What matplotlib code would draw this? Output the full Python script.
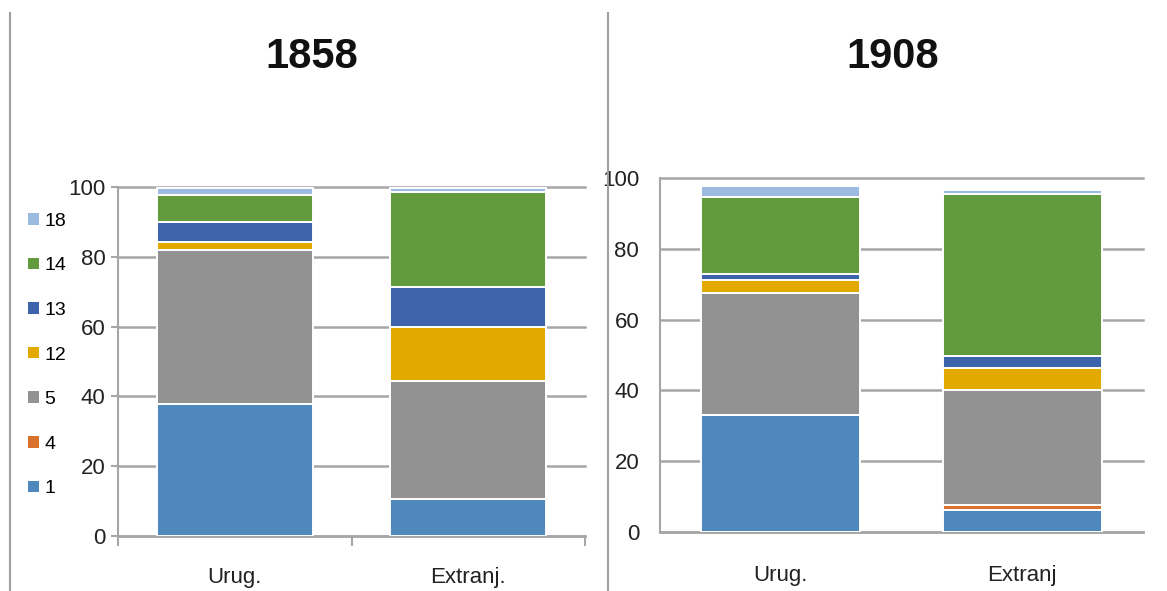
import matplotlib
matplotlib.use("Agg")
import matplotlib.pyplot as plt
from matplotlib.patches import Patch
from matplotlib.lines import Line2D
import numpy as np

plt.rcParams['font.family'] = ['Liberation Sans', 'DejaVu Sans']

# Stacked shares (%) by group, per census year
groups = ["1", "4", "5", "12", "13", "14", "18"]
colors = ["#4F88BC", "#D9722D", "#929292", "#E2AA00", "#3C63AC", "#629A3E", "#9BBBE1"]

years = ["1858", "1908"]
categories = {
    "1858": ["Urug.", "Extranj."],
    "1908": ["Urug.", "Extranj"],
}
shares_1858 = {
    "1":  [37.7, 10.6],
    "4":  [0.0, 0.0],
    "5":  [44.3, 33.8],
    "12": [2.2, 15.6],
    "13": [5.9, 11.3],
    "14": [7.5, 27.4],
    "18": [2.1, 0.9],
}
shares_1908 = {
    "1":  [33.1, 6.1],
    "4":  [0.0, 1.6],
    "5":  [34.4, 32.3],
    "12": [3.6, 6.4],
    "13": [1.7, 3.2],
    "14": [21.7, 46.0],
    "18": [3.1, 1.0],
}
data = {"1858": shares_1858, "1908": shares_1908}
yticks = [0, 20, 40, 60, 80, 100]

W, H = 1167, 591
fig = plt.figure(figsize=(W / 100, H / 100), dpi=100)


def px_axes(x0, x1, y_top, y_bot):
    return fig.add_axes([x0 / W, 1 - y_bot / H, (x1 - x0) / W, (y_bot - y_top) / H])


axes_specs = {
    "1858": dict(box=(118, 585, 187, 536), bar_w=0.67, ticks=True, title_x=312),
    "1908": dict(box=(660, 1143, 178, 532), bar_w=0.66, ticks=False, title_x=893),
}

grid_c = "#A6A6A6"
for year in years:
    spec = axes_specs[year]
    ax = px_axes(*spec["box"])
    cats = categories[year]
    x = np.arange(len(cats))
    bottom = np.zeros(len(cats))
    for g, c in zip(groups, colors):
        vals = np.array(data[year][g])
        ax.bar(x, vals, bottom=bottom, width=spec["bar_w"], color=c,
               edgecolor="white", linewidth=1.4, zorder=3)
        bottom += vals
    ax.set_xlim(-0.5, len(cats) - 0.5)
    ax.set_ylim(0, 100)
    ax.set_yticks(yticks)
    ax.set_yticklabels([str(t) for t in yticks], fontsize=16, color="#222222")
    ax.yaxis.grid(True, color=grid_c, linewidth=1.8, zorder=0)
    for gl in ax.get_ygridlines():
        gl.set_clip_on(False)
    ax.set_axisbelow(True)
    for s in ["top", "right"]:
        ax.spines[s].set_visible(False)
    ax.spines["left"].set_color(grid_c)
    ax.spines["left"].set_linewidth(1.5)
    ax.spines["bottom"].set_color(grid_c)
    ax.spines["bottom"].set_linewidth(1.8)
    ax.set_xticks(x)
    ax.set_xticklabels(cats, fontsize=16, color="#222222")
    if spec["ticks"]:
        ax.tick_params(axis="y", length=5, width=1.5, color=grid_c, pad=4)
        ax.tick_params(axis="x", length=0, pad=22)
        ax.set_xticks([-0.5, 0.5, 1.5], minor=True)
        ax.tick_params(axis="x", which="minor", length=7, width=1.5, color=grid_c)
    else:
        ax.tick_params(axis="y", length=0, pad=15)
        ax.tick_params(axis="x", length=0, pad=24)
    fig.text(spec["title_x"] / W, 1 - 57 / H, year, fontsize=30, fontweight="bold",
             ha="center", va="center", color="#111111")

# Panel separators
fig.add_artist(Line2D([10 / W, 10 / W], [0, 1 - 13 / H], color="#A0A0A0", linewidth=1.5))
fig.add_artist(Line2D([607.5 / W, 607.5 / W], [0, 1 - 13 / H], color="#A0A0A0", linewidth=1.5))

# Legend (top entry = last stacked group)
handles = [Patch(facecolor=c, edgecolor="none") for c in colors][::-1]
labels = groups[::-1]
fig.legend(handles, labels, loc="center left", bbox_to_anchor=(28 / W, 1 - 355 / H),
           frameon=False, fontsize=14, handlelength=0.55, handleheight=0.55,
           handletextpad=0.3, labelspacing=1.42, borderaxespad=0, borderpad=0)

fig.savefig("out.png", dpi=100, facecolor="white")
